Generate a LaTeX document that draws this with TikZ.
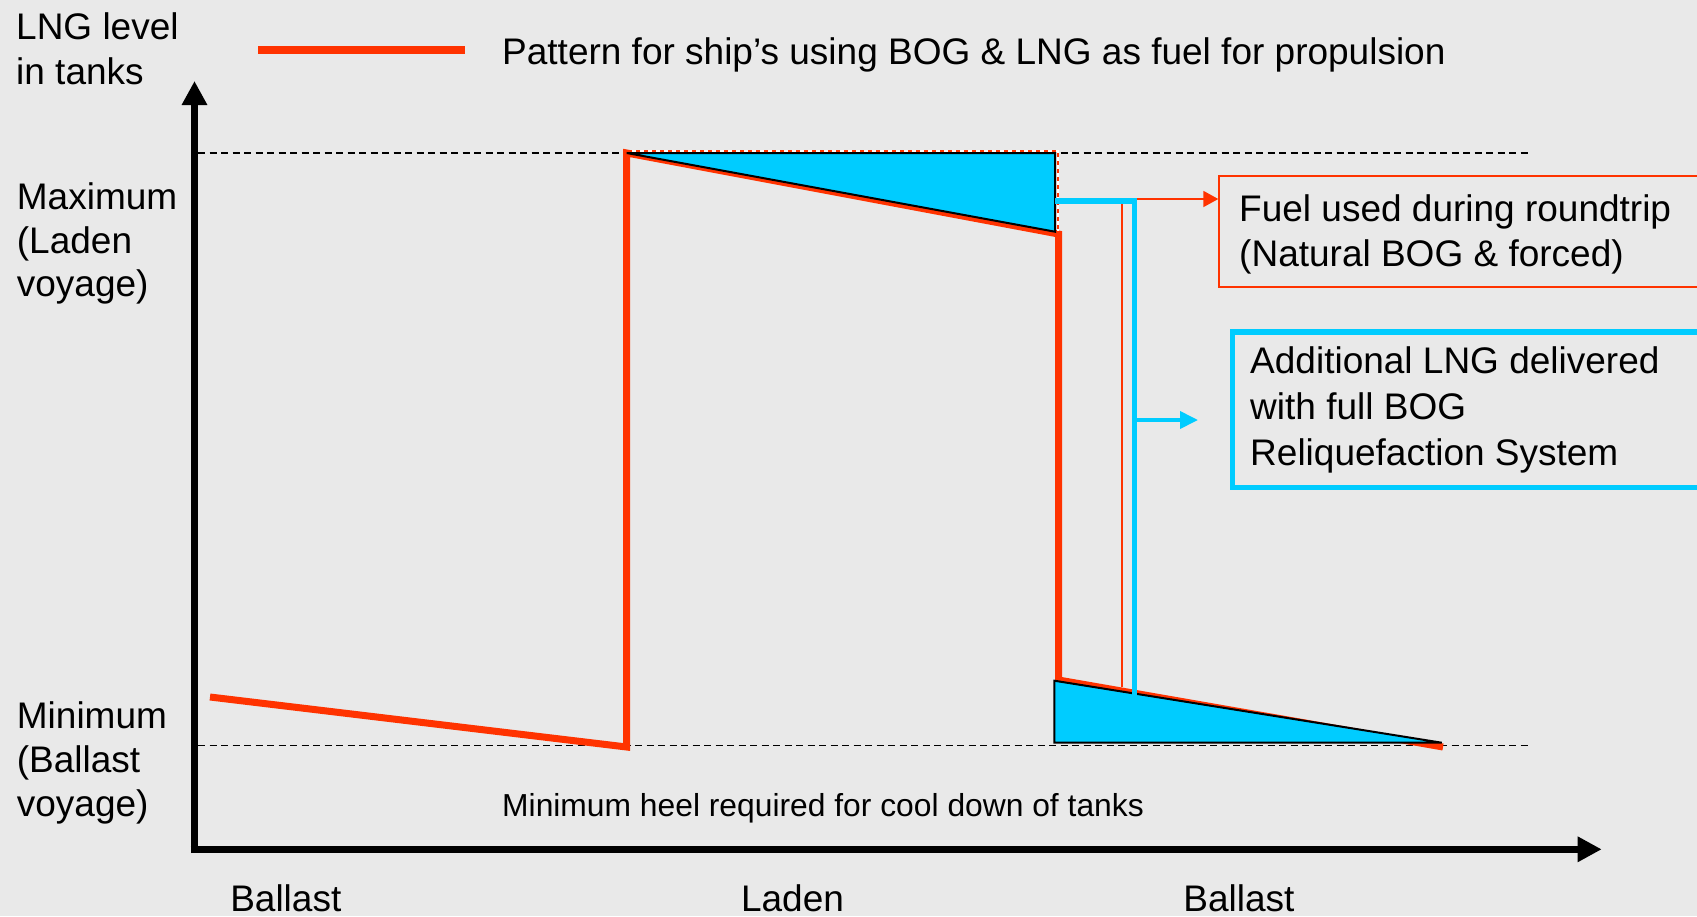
\documentclass[tikz,border=0pt]{standalone}
\usepackage{fontspec}
\setmainfont{Liberation Sans}
\usetikzlibrary{arrows.meta}
\definecolor{bg}{RGB}{233,233,233}
\definecolor{lred}{RGB}{255,51,0}
\definecolor{lblue}{RGB}{0,204,255}
\newcommand\linesblock[1]{\begin{tabular}[t]{@{}l@{}}#1\end{tabular}}
\begin{document}
\begin{tikzpicture}[x=1pt,y=-1pt,
  lbl/.style={anchor=base west,inner sep=0pt,font=\fontsize{37}{44.5}\selectfont},
  axislbl/.style={anchor=base,inner sep=0pt,font=\fontsize{37}{44.5}\selectfont},
  guide/.style={black,line width=1.5pt,dash pattern=on 7pt off 4.5pt},
  axisline/.style={black,line width=7.5pt,-{Triangle[length=24pt,width=24pt]}},
  patternline/.style={lred,line width=7pt,line join=miter},
  wedge/.style={fill=lblue,draw=black,line width=2pt,line join=miter},
  fuelline/.style={lred,line width=1.8pt,line join=miter,-{Triangle[length=15pt,width=16pt]}},
  addline/.style={lblue,line width=5.8pt,line join=miter},
  addarrow/.style={lblue,line width=3.8pt,-{Triangle[length=18pt,width=17pt]}},
]
\fill[bg] (0,0) rectangle (1697,916);
\useasboundingbox (0,0) rectangle (1697,916);

% key coordinates
\coordinate (ybot) at (194.5,853);
\coordinate (ytip) at (194.5,81);
\coordinate (xleft) at (190.7,849.3);
\coordinate (xtip) at (1601.7,849.3);
\coordinate (gmaxL) at (198,153);
\coordinate (gmaxR) at (1531,153);
\coordinate (gminL) at (198,745.5);
\coordinate (gminR) at (1531,745.5);
\coordinate (p0) at (210,697);
\coordinate (p1) at (626.7,747);
\coordinate (p2) at (626.7,153);
\coordinate (p3) at (1058.5,234);
\coordinate (p4) at (1058.5,680);
\coordinate (p5) at (1443,747);
\coordinate (legA) at (258,50);
\coordinate (legB) at (465,50);

% guide lines
\draw[guide] (gmaxL) -- (gmaxR);
\draw[guide] (gminL) -- (gminR);

% LNG level pattern
\draw[patternline] (p0) -- (p1) -- (p2) -- (p3) -- (p4) -- (p5);

% fuel used wedges
\draw[wedge] (626.7,153) -- (1055,153) -- (1055,231.7) -- cycle;
\draw[wedge] (1054.3,680.7) -- (1054.3,742.7) -- (1441.7,742.7) -- cycle;
\draw[white,line width=1.8pt] (628,150.6) -- (1057.6,150.6) -- (1057.6,231);
\draw[lred,line width=1.8pt,dash pattern=on 4pt off 4pt] (628,150.6) -- (1057.6,150.6) -- (1057.6,231);

% callout boxes
\node (fuelbox) [draw=lred,line width=1.8pt,minimum width=530pt,minimum height=110.7pt,anchor=north west,inner sep=0pt] at (1218.3,175) {};
\node (addbox) [draw=lblue,line width=5.8pt,minimum width=520pt,minimum height=155.5pt,anchor=north west,inner sep=0pt] at (1229.5,329) {};
\coordinate (fuelin) at (1218.3,199);
\coordinate (addin) at (1198,420);
\coordinate (rbot) at (1121.7,687);
\coordinate (bstart) at (1055,201);
\coordinate (bbot) at (1134.5,695);
\coordinate (barrow) at (1134.5,420);

% callout connectors
\draw[fuelline] (rbot) |- (fuelin);
\draw[addline] (bstart) -| (bbot);
\draw[addarrow] (barrow) -- (addin);

% axes
\draw[axisline] (ybot) -- (ytip);
\draw[axisline] (xleft) -- (xtip);

% legend
\draw[lred,line width=7.5pt] (legA) -- (legB);

% texts
\node[lbl,font=\fontsize{37}{45.4}\selectfont] (ylabel) at (16,39) {\linesblock{LNG level\\in tanks}};
\node[lbl] (legtext) at (502,64.5) {Pattern for ship’s using BOG \& LNG as fuel for propulsion};
\node[lbl,font=\fontsize{37}{43.7}\selectfont] (maxlabel) at (16.7,209.3) {\linesblock{Maximum\\(Laden\\voyage)}};
\node[lbl,font=\fontsize{37}{44.2}\selectfont] (minlabel) at (16.7,728.3) {\linesblock{Minimum\\(Ballast\\voyage)}};
\node[lbl,font=\fontsize{31.8}{36}\selectfont] (heel) at (502,816.7) {Minimum heel required for cool down of tanks};
\node[axislbl] (ballastA) at (285.8,911) {Ballast};
\node[axislbl] (laden) at (792.5,911) {Laden};
\node[axislbl] (ballastB) at (1239,911) {Ballast};
\node[lbl,font=\fontsize{37}{44.3}\selectfont] (fueltext) at (1239,221.7) {\linesblock{Fuel used during roundtrip\\(Natural BOG \& forced)}};
\node[lbl,font=\fontsize{37}{46}\selectfont] (addtext) at (1250,373.3) {\linesblock{Additional LNG delivered\\with full BOG\\Reliquefaction System}};
\end{tikzpicture}
\end{document}
